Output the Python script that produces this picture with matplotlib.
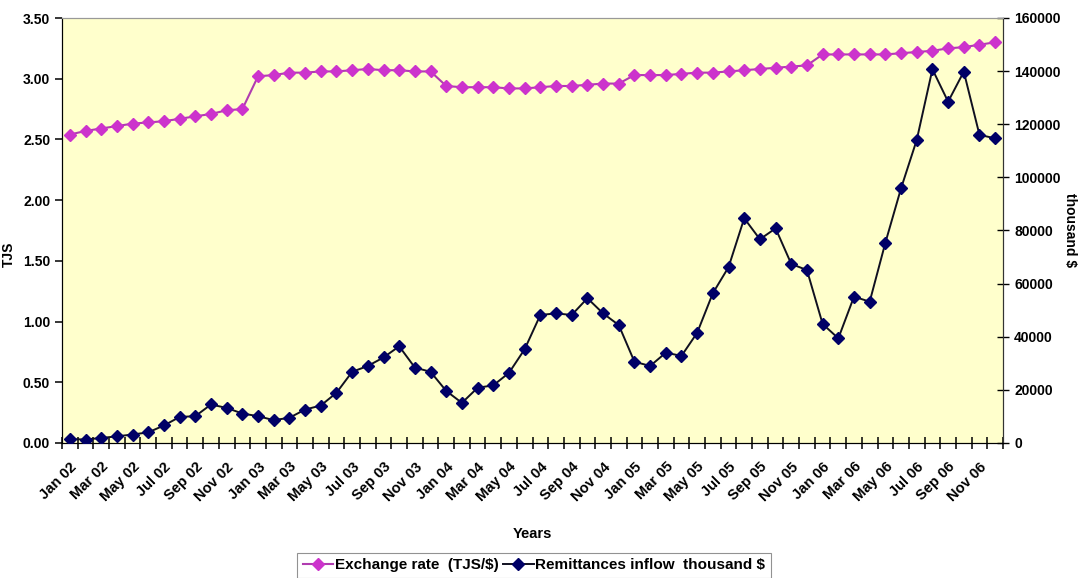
"""
Tipo de cambio (TJS/$) y flujo de remesas (miles de $), ene 2002 - dic 2006.
Dos ejes Y: izquierda tipo de cambio, derecha remesas.
"""
import numpy as np
import matplotlib
matplotlib.use("Agg")
import matplotlib.pyplot as plt

plt.rcParams['font.family'] = ['Liberation Sans', 'DejaVu Sans']

MONTHS = ["Jan", "Feb", "Mar", "Apr", "May", "Jun",
          "Jul", "Aug", "Sep", "Oct", "Nov", "Dec"]
YEARS = ["02", "03", "04", "05", "06"]
periods = [f"{m} {y}" for y in YEARS for m in MONTHS]

# Tipo de cambio mensual (TJS por $)
exchange_rate = [
    2.54, 2.57, 2.59, 2.61, 2.63, 2.64, 2.65, 2.67, 2.69, 2.71, 2.74, 2.75,
    3.02, 3.03, 3.05, 3.05, 3.06, 3.06, 3.07, 3.08, 3.07, 3.07, 3.06, 3.06,
    2.94, 2.93, 2.93, 2.93, 2.92, 2.92, 2.93, 2.94, 2.94, 2.95, 2.96, 2.96,
    3.03, 3.03, 3.03, 3.04, 3.05, 3.05, 3.06, 3.07, 3.08, 3.09, 3.10, 3.11,
    3.20, 3.20, 3.20, 3.20, 3.20, 3.21, 3.22, 3.23, 3.25, 3.26, 3.28, 3.30,
]

# Remesas mensuales (miles de $)
remittances = [
    1500, 1300, 1900, 2500, 3200, 4000, 6600, 9800, 10100, 14500, 13200, 11100,
    10100, 8600, 9500, 12600, 14100, 18900, 26800, 29000, 32200, 36400, 28400, 26800,
    19600, 15100, 20800, 21700, 26400, 35300, 48200, 48800, 48200, 54500, 48800, 44400,
    30600, 29000, 34000, 32800, 41500, 56400, 66200, 84600, 76700, 80800, 67400, 65100,
    44800, 39400, 55100, 53200, 75400, 95900, 114100, 140700, 128500, 139800, 116000, 114700,
]

x = np.arange(len(periods))

fig = plt.figure(figsize=(10.88, 5.78), dpi=100)
ax = fig.add_axes([62 / 1088, 1 - 443 / 578, (1003 - 62) / 1088, (443 - 18) / 578])
ax.set_facecolor("#FFFFCC")
ax2 = ax.twinx()

l1, = ax.plot(x, exchange_rate, color="#B03CB0", lw=1.5, marker="D", ms=6.5,
              mfc="#CC33CC", mec="#CC33CC", zorder=3,
              label="Exchange rate  (TJS/$)")
l2, = ax2.plot(x, remittances, color="#101020", lw=1.4, marker="D", ms=6,
               mfc="#000066", mec="#000066", zorder=3,
               label="Remittances inflow  thousand $")

ax.set_xlim(-0.5, len(x) - 0.5)
ax.set_ylim(0, 3.5)
ax2.set_ylim(0, 160000)

# eje de categorias: marcas en los limites, etiquetas cada dos meses
ax.set_xticks(x[::2])
ax.set_xticklabels(periods[::2], rotation=45, ha="right", rotation_mode="anchor",
                   fontsize=10.5, fontweight="bold")
ax.set_xticks(np.arange(-0.5, len(x)), minor=True)
ax.tick_params(axis="x", which="major", length=0, pad=12)
ax.tick_params(axis="x", which="minor", direction="inout", length=9, width=1.1)

ax.set_yticks(np.arange(0, 3.51, 0.5))
ax.set_yticklabels([f"{v:.2f}" for v in np.arange(0, 3.51, 0.5)],
                   fontsize=10, fontweight="bold")
ax.tick_params(axis="y", direction="out", length=5, width=1.1)

ax2.set_yticks(np.arange(0, 160001, 20000))
ax2.set_yticklabels([f"{int(v)}" for v in np.arange(0, 160001, 20000)],
                    fontsize=10, fontweight="bold")
ax2.tick_params(axis="y", direction="inout", length=9, width=1.0)

for a in (ax, ax2):
    a.spines["left"].set_color("black")
    a.spines["bottom"].set_color("black")
    a.spines["right"].set_color("#333333")
    a.spines["top"].set_color("#999999")
    a.spines["top"].set_linewidth(0.8)

ax.set_xlabel("Years", fontsize=10.5, fontweight="bold", labelpad=16)
fig.text(0.0085, 0.56, "TJS", rotation=90, ha="center", va="center",
         fontsize=10, fontweight="bold")
ax2.set_ylabel("thousand $", rotation=-90, fontsize=10, fontweight="bold",
               labelpad=12)

leg = fig.legend(handles=[l1, l2], loc="upper center", ncol=2,
                 bbox_to_anchor=(534 / 1088, 1 - 553 / 578),
                 borderaxespad=0, frameon=True, fancybox=False,
                 edgecolor="#777777",
                 prop={"size": 11, "weight": "bold"},
                 handlelength=2.0, handletextpad=0.1, columnspacing=0.3,
                 borderpad=0.35)
leg.get_frame().set_linewidth(0.8)

fig.savefig("out.png", dpi=100)
